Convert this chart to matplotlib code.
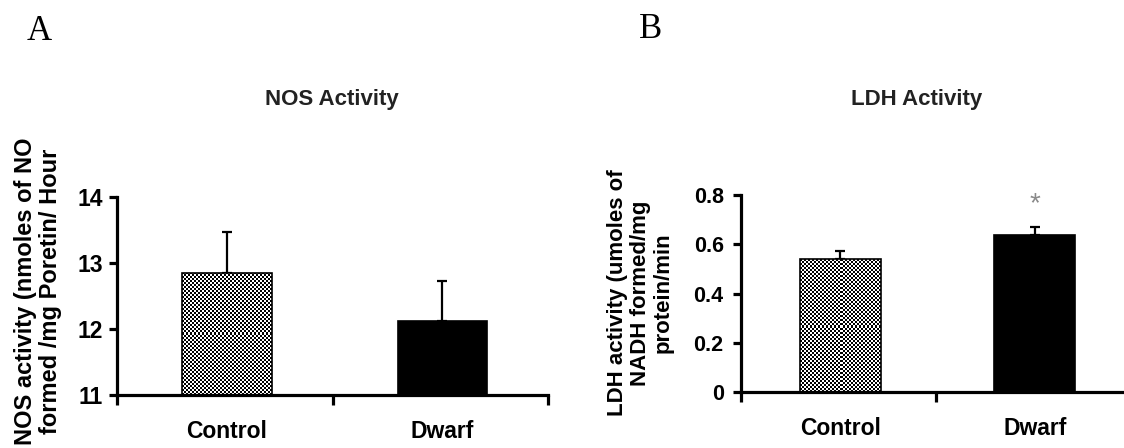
import numpy as np
import matplotlib
matplotlib.use("Agg")
import matplotlib.pyplot as plt

# ---- data ----
categories = ["Control", "Dwarf"]
nos_mean = [12.85, 12.12]
nos_err = [0.62, 0.60]
ldh_mean = [0.54, 0.638]
ldh_err = [0.033, 0.033]
nos_yticks = [11, 12, 13, 14]
ldh_yticks = [0, 0.2, 0.4, 0.6, 0.8]
ldh_yticklabels = ["0", "0.2", "0.4", "0.6", "0.8"]

plt.rcParams["font.family"] = ["Liberation Sans", "DejaVu Sans"]
plt.rcParams["font.weight"] = "bold"

W, H = 1124, 448
fig = plt.figure(figsize=(W / 100, H / 100), dpi=100)
fig.patch.set_facecolor("white")


def px(x0, y0, x1, y1):
    # pixel box (left, top, right, bottom) -> figure fraction rect
    return [x0 / W, 1 - y1 / H, (x1 - x0) / W, (y1 - y0) / H]


def checker(ax, bar, cell_px=2.0):
    x0, y0 = bar.get_x(), bar.get_y()
    x1, y1 = x0 + bar.get_width(), y0 + bar.get_height()
    p = ax.transData.transform([[x0, y0], [x1, y1]])
    wpx, hpx = abs(p[1, 0] - p[0, 0]), abs(p[1, 1] - p[0, 1])
    nx = max(1, int(round(wpx / cell_px)))
    ny = max(1, int(round(hpx / cell_px)))
    ii, jj = np.indices((ny, nx))
    img = ((ii + jj) % 2).astype(float)
    im = ax.imshow(img, extent=[x0, x1, y0, y1], cmap="gray", vmin=0, vmax=1,
                   interpolation="nearest", aspect="auto", zorder=2)
    im.set_clip_path(bar)


def style_axis(ax, xlim, ylim, yticks, yticklabels, ylab_size, ypad):
    ax.set_xlim(*xlim)
    ax.set_ylim(*ylim)
    for s in ["top", "right"]:
        ax.spines[s].set_visible(False)
    for s in ["left", "bottom"]:
        ax.spines[s].set_linewidth(2.3)
    ax.set_yticks(yticks)
    ax.set_yticklabels(yticklabels, fontsize=ylab_size, fontweight="bold")
    ax.tick_params(axis="y", length=5.5, width=2.3, pad=ypad)
    mid = (xlim[0] + xlim[1]) / 2
    ax.set_xticks([xlim[0], mid, xlim[1]])
    ax.set_xticklabels([])
    ax.tick_params(axis="x", which="major", length=7, width=2.3)
    ax.set_xticks([0, 1], minor=True)
    ax.set_xticklabels(categories, minor=True, fontsize=16.5, fontweight="bold")
    ax.tick_params(axis="x", which="minor", length=0, pad=18)


bw = 0.415

# ---- Panel A ----
axA = fig.add_axes(px(117, 197, 548, 395))
axA.set_facecolor("none")
xlimA = (-0.51, 1.49)
style_axis(axA, xlimA, (11, 14), nos_yticks, [str(v) for v in nos_yticks], 16.5, 4.5)
barsA = axA.bar([0, 1], np.array(nos_mean) - 11, bottom=11, width=bw,
                color=["white", "black"], edgecolor="black", linewidth=1.2, zorder=3)
barsA[0].set_facecolor("none")
axA.errorbar([0, 1], nos_mean, yerr=[[0, 0], nos_err], fmt="none", ecolor="black",
             elinewidth=1.6, capsize=3.5, capthick=1.6, zorder=1)
checker(axA, barsA[0])

# ---- Panel B ----
axB = fig.add_axes(px(741, 195, 741 + 2.01 * 194.5, 392))
axB.set_facecolor("none")
xlimB = (-0.51, 1.50)
style_axis(axB, xlimB, (0, 0.8), ldh_yticks, ldh_yticklabels, 15.5, 7)
barsB = axB.bar([0, 1], ldh_mean, width=bw, color=["white", "black"],
                edgecolor="black", linewidth=1.2, zorder=3)
barsB[0].set_facecolor("none")
axB.errorbar([0, 1], ldh_mean, yerr=[[0, 0], ldh_err], fmt="none", ecolor="black",
             elinewidth=1.6, capsize=3.5, capthick=1.6, zorder=1)
checker(axB, barsB[0])
axB.text(1, ldh_mean[1] + ldh_err[1] + 0.09, "*", ha="center", va="center",
         fontsize=20, color="#8a8a8a", fontweight="normal")

# ---- text ----
fig.text(332 / W, 1 - 100 / H, "NOS Activity", ha="center", va="center",
         fontsize=16, fontweight="bold", color="#222222")
fig.text(917 / W, 1 - 100 / H, "LDH Activity", ha="center", va="center",
         fontsize=16, fontweight="bold", color="#222222")
fig.text(39 / W, 1 - 31 / H, "A", ha="center", va="center", fontsize=25,
         family=["Liberation Serif", "DejaVu Serif"], fontweight="normal")
fig.text(651 / W, 1 - 29 / H, "B", ha="center", va="center", fontsize=25,
         family=["Liberation Serif", "DejaVu Serif"], fontweight="normal")
fig.text(38 / W, 1 - 291 / H, "NOS activity (nmoles of NO\nformed /mg Poretin/ Hour",
         rotation=90, ha="center", va="center", multialignment="center",
         fontsize=17, fontweight="bold", linespacing=1.1)
fig.text(640 / W, 1 - 293 / H, "LDH activity (umoles of\nNADH formed/mg\nprotein/min",
         rotation=90, ha="center", va="center", multialignment="center",
         fontsize=16, fontweight="bold", linespacing=1.1)

fig.savefig("out.png", dpi=100, facecolor="white")
